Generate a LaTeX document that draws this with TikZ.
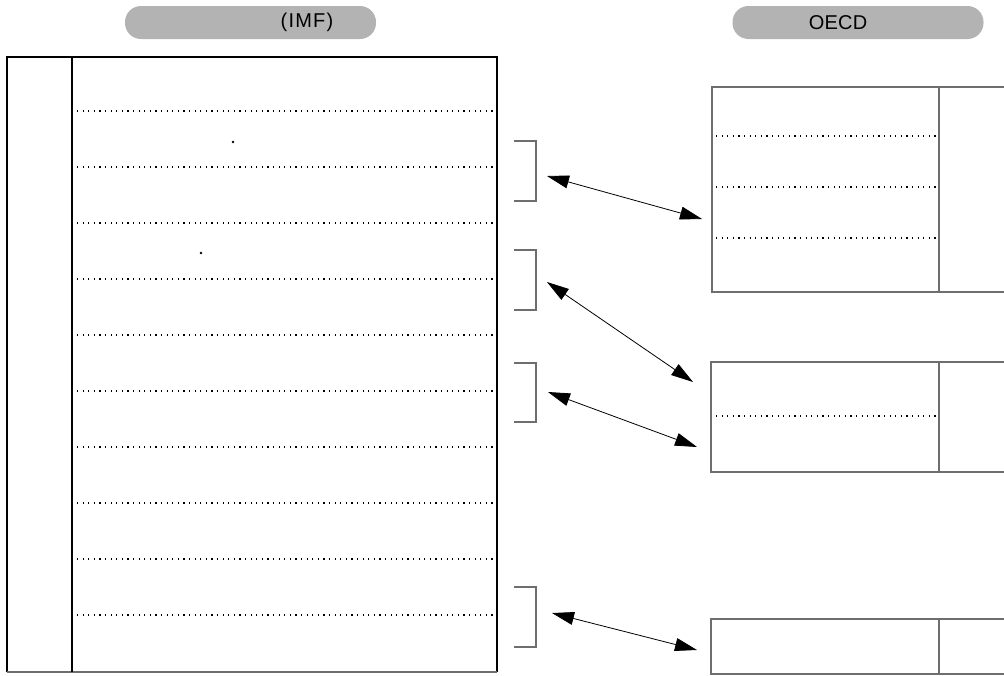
\documentclass[tikz,border=0pt]{standalone}
\usepackage{fontspec}
\setmainfont{Liberation Sans}
\usetikzlibrary{arrows.meta}
\definecolor{pillgray}{RGB}{179,179,179}
\definecolor{framegray}{RGB}{110,110,110}
\begin{document}
\begin{tikzpicture}[x=1pt,y=-1pt,
  pill/.style={fill=pillgray,draw=none,rounded corners=16pt,minimum width=251pt,minimum height=33pt,inner sep=0pt},
  pilltext/.style={font=\fontsize{20}{22}\selectfont\addfontfeature{LetterSpace=6},inner sep=0pt,anchor=center},
  frame/.style={draw=black,line width=1.1pt},
  gframe/.style={draw=framegray,line width=1.3pt},
  dotline/.style={draw=black,line width=1.2pt,dash pattern=on 1.2pt off 4.4pt},
  bracket/.style={draw=framegray,line width=1.2pt},
  link/.style={draw=black,line width=0.8pt,{Triangle[length=22pt,width=13pt]}-{Triangle[length=22pt,width=13pt]}}
]
\useasboundingbox (0,0) rectangle (1004,675);
\clip (0,0) rectangle (1004,675);

% header pills
\node[pill] (pillimf) at (250.5,22.5) {};
\node[pilltext] (timf) at (307,22.5) {(IMF)};
\node[pill] (pilloecd) at (858,22.5) {};
\node[pilltext] (toecd) at (838,22.5) {\addfontfeature{LetterSpace=1}OECD};

% left table
\draw[frame] (7,672) -- (7,57) -- (497,57) -- (497,672);
\draw[draw=framegray,line width=2pt] (7,672) -- (497,672);
\draw[draw=black,line width=1.5pt] (72,57) -- (72,672);
\foreach \k in {0,...,9}{
  \draw[dotline] (77,{111+56*\k}) -- (496,{111+56*\k});
}
\fill (233,142) circle (1.3pt);
\fill (201,253) circle (1.3pt);

% brackets
\draw[bracket] (514,141) -- (536,141) -- (536,201) -- (514,201);
\draw[bracket] (514,250) -- (536,250) -- (536,310) -- (514,310);
\draw[bracket] (514,363) -- (536,363) -- (536,422) -- (514,422);
\draw[bracket] (514,587) -- (536,587) -- (536,647) -- (514,647);

% right boxes
\draw[gframe] (1010,87) -- (712,87) -- (712,292) -- (1010,292);
\draw[draw=framegray,line width=1.3pt] (939,87) -- (939,292);
\foreach \y in {136,187,238}{
  \draw[dotline] (716,\y) -- (937,\y);
}
\draw[gframe] (1010,362) -- (711,362) -- (711,472) -- (1010,472);
\draw[draw=framegray,line width=1.3pt] (939,362) -- (939,472);
\draw[dotline] (716,416) -- (937,416);
\draw[gframe] (1010,619) -- (711,619) -- (711,674) -- (1010,674);
\draw[draw=framegray,line width=1.3pt] (939,619) -- (939,674);

% arrow endpoints
\coordinate (a1s) at (547,176);
\coordinate (a1e) at (702,219);
\coordinate (a2s) at (547,282);
\coordinate (a2e) at (693,382);
\coordinate (a3s) at (548,392);
\coordinate (a3e) at (697,447);
\coordinate (a4s) at (552,613);
\coordinate (a4e) at (697,650);
\draw[link] (a1s) -- (a1e);
\draw[link] (a2s) -- (a2e);
\draw[link] (a3s) -- (a3e);
\draw[link] (a4s) -- (a4e);
\end{tikzpicture}
\end{document}
